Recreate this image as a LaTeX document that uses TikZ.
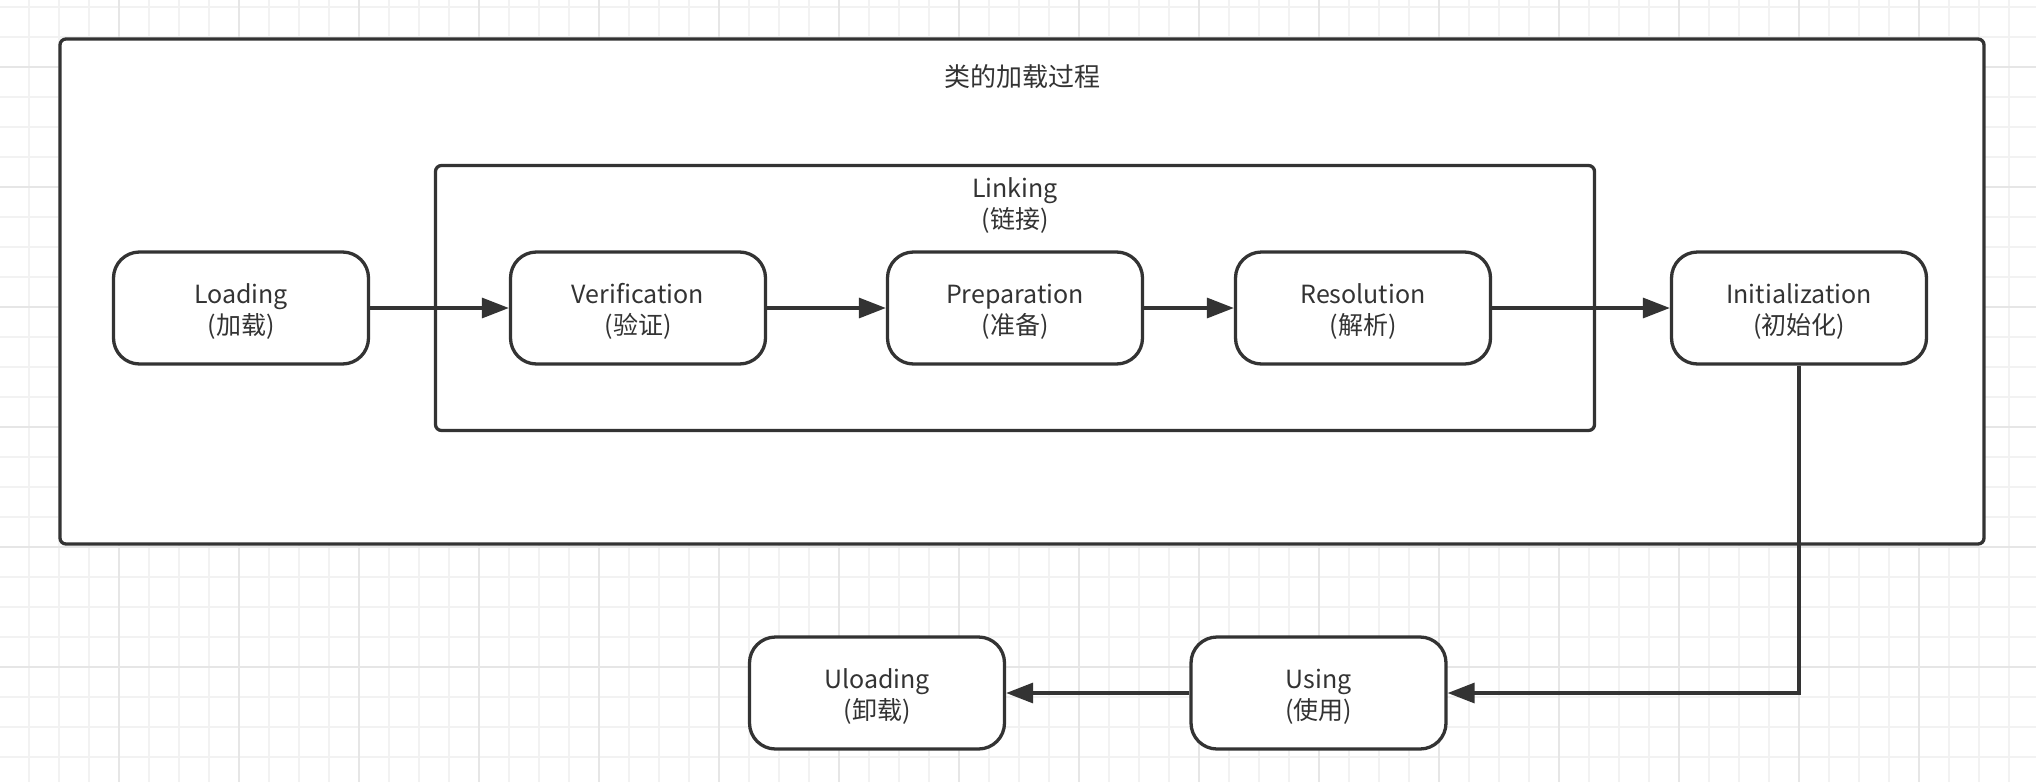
\documentclass[tikz,border=0pt]{standalone}
\usepackage{fontspec}
\setmainfont{Noto Sans CJK SC}
\usetikzlibrary{arrows.meta}
\definecolor{ink}{HTML}{333333}
\definecolor{gridminor}{HTML}{F2F2F2}
\definecolor{gridmajor}{HTML}{E6E6E6}
\newcommand\stagetext[2]{\raisebox{-5pt}[\height][\depth]{\begin{tabular}{@{}c@{}}#1\\#2\end{tabular}}}
\begin{document}
\begin{tikzpicture}[x=1pt,y=-1pt,
  stage/.style={draw=ink, line width=3.3pt, fill=white, rounded corners=26pt,
    minimum width=255pt, minimum height=112pt, text=ink,
    font=\fontsize{25}{31}\selectfont, inner sep=0pt},
  frame/.style={draw=ink, line width=3.3pt, rounded corners=6pt, fill=white, inner sep=0pt},
  flow/.style={draw=ink, line width=3.3pt, -{Triangle[length=27pt,width=20pt]}},
  lbl/.style={text=ink, align=center, font=\fontsize{25}{31}\selectfont, inner sep=0pt},
  minorline/.style={draw=gridminor, line width=1.5pt},
  majorline/.style={draw=gridmajor, line width=1.5pt}]
\useasboundingbox (0,0) rectangle (2036,782);
\fill[white] (0,0) rectangle (2036,782);
% grid
\foreach \i in {0,...,68} \draw[minorline] ({-1+30*\i},0) -- ({-1+30*\i},782);
\foreach \i in {0,...,26} \draw[minorline] (0,{7+30*\i}) -- (2036,{7+30*\i});
\foreach \i in {0,...,16} \draw[majorline] ({119+120*\i},0) -- ({119+120*\i},782);
\foreach \i in {0,...,6} \draw[majorline] (0,{67+120*\i}) -- (2036,{67+120*\i});
% frames
\node[frame, minimum width=1924pt, minimum height=505pt] (outer) at (1022,291.5) {};
\node[lbl, font=\fontsize{26}{31}\selectfont] (title) at (1022,77) {类的加载过程};
\node[frame, minimum width=1159pt, minimum height=265pt] (linking) at (1015,298) {};
\node[lbl] (linklbl) at (1015,205) {Linking\\(链接)};
% stages
\node[stage] (loading) at (241,308) {\stagetext{Loading}{(加载)}};
\node[stage] (verif) at (638,308) {\stagetext{Verification}{(验证)}};
\node[stage] (prep) at (1015,308) {\stagetext{Preparation}{(准备)}};
\node[stage] (resol) at (1363,308) {\stagetext{Resolution}{(解析)}};
\node[stage] (init) at (1799,308) {\stagetext{Initialization}{(初始化)}};
\node[stage] (using) at (1318.5,693) {\stagetext{Using}{(使用)}};
\node[stage] (unload) at (877,693) {\stagetext{Uloading}{(卸载)}};
% connectors
\draw[flow] (loading) -- (verif);
\draw[flow] (verif) -- (prep);
\draw[flow] (prep) -- (resol);
\draw[flow] (resol) -- (init);
\draw[flow] (init.south) |- (using.east);
\draw[flow] (using) -- (unload);
\end{tikzpicture}
\end{document}
